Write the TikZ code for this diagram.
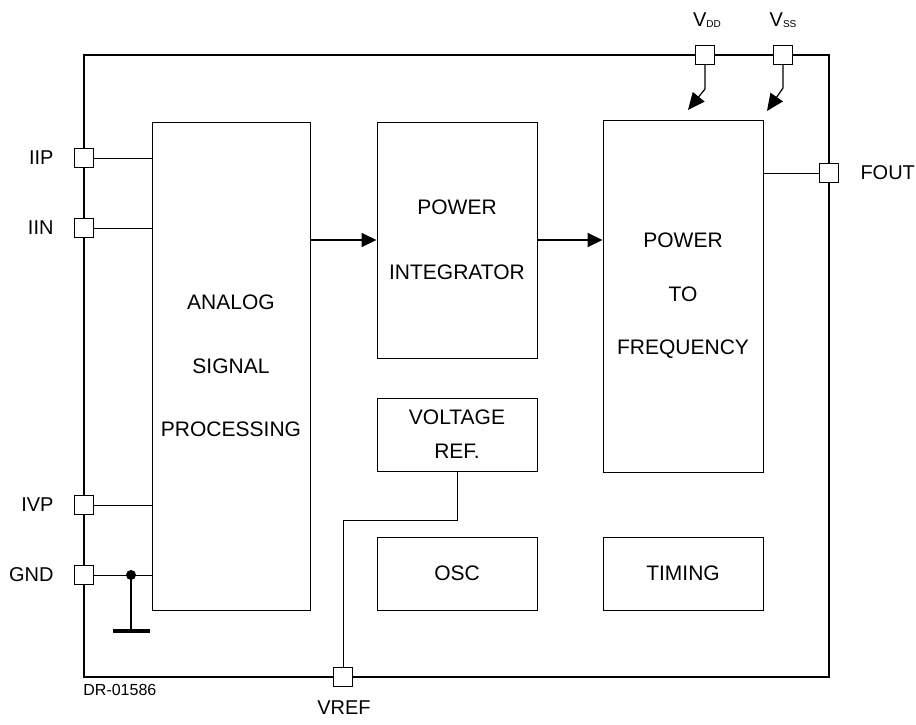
\documentclass[tikz,border=0pt]{standalone}
\usepackage{fontspec}
\setmainfont{Liberation Sans}
\usetikzlibrary{arrows.meta}
\tikzset{
  block/.style = {draw = black, line width = 0.5pt, font = \fontsize{10.5}{#1}\selectfont, align = center, inner sep = 0pt},
  pinbox/.style = {draw = black, fill = white, line width = 0.6pt, minimum size = 9.5pt, inner sep = 0pt},
  pinlabel/.style = {font = \fontsize{10}{12}\selectfont, inner sep = 0pt},
  wire/.style = {line width = 0.5pt},
  flow/.style = {line width = 1pt, -{Triangle[length = 7.5pt, width = 7pt]}},
  supply/.style = {line width = 0.6pt, -{Triangle[length = 8.5pt, width = 7.5pt]}}
}
\begin{document}
\begin{tikzpicture}[x = 0.5pt, y = -0.5pt]
\pgfmathsetlengthmacro\u{0.5pt};
\useasboundingbox (0,0) rectangle (916,724);
\draw [line width = 1pt] (84,55) rectangle (829,677);
\node [block = 31.75pt, minimum width = 158*\u, minimum height = 488*\u] (asp) at (231,366) {ANALOG\\SIGNAL\\PROCESSING};
\node [block = 32.5pt, minimum width = 160*\u, minimum height = 236*\u] (integ) at (457,240) {POWER\\INTEGRATOR};
\node [block = 26.75pt, minimum width = 160*\u, minimum height = 352*\u] (ptf) at (683,296) {POWER\\TO\\FREQUENCY};
\node [block = 17pt, minimum width = 160*\u, minimum height = 73*\u] (vref) at (457,434.5) {VOLTAGE\\REF.};
\node [block = 12pt, minimum width = 160*\u, minimum height = 73*\u] (osc) at (457,573.5) {OSC};
\node [block = 12pt, minimum width = 160*\u, minimum height = 73*\u] (timing) at (683,573.5) {TIMING};
\foreach \name/\x/\y in {IIP/84/158, IIN/84/228, IVP/84/505, GND/84/575, VDD/705/55, VSS/783/55, FOUT/829/173, VREF/343/677}
  \node [pinbox] (p\name) at (\x,\y) {};
\foreach \name in {IIP, IIN, IVP}
  \node [pinlabel, anchor = east] (l\name) at ([xshift = -20*\u]p\name.west) {\name};
\node [pinlabel, anchor = east] (lGND) at ([xshift = -20*\u]pGND.west) {GND};
\node [pinlabel, anchor = west] (lFOUT) at ([xshift = 21*\u]pFOUT.east) {FOUT};
\node [pinlabel] (lVREF) at (344,708) {VREF};
\node [pinlabel] (lVDD) at (707,20) {V\raisebox{-0.5pt}{\fontsize{5}{6}\selectfont DD}};
\node [pinlabel] (lVSS) at (783,20) {V\raisebox{-0.5pt}{\fontsize{5}{6}\selectfont SS}};
\node [font = \fontsize{8}{10}\selectfont, inner sep = 0pt, anchor = west] (drno) at (83,690) {DR-01586};
\foreach \name in {IIP, IIN, IVP, GND}
  \draw [wire] (p\name.east) -- (p\name.east -| asp.west);
\draw [wire] (ptf.east |- pFOUT) -- (pFOUT.west);
\coordinate (gjoin) at (131,575);
\coordinate (gbar) at (131,631);
\fill (gjoin) circle (2.5pt);
\draw [line width = 0.8pt] (gjoin) -- (gbar);
\draw [line width = 1.8pt] ([xshift = -18*\u]gbar) -- ([xshift = 19*\u]gbar);
\coordinate (vbend) at (457,520);
\draw [wire] (vref.south) -- (vbend) -| (pVREF.north);
\draw [flow] (asp.east |- integ.west) -- (integ.west);
\draw [flow] (integ.east) -- (ptf.west |- integ.east);
\coordinate (vddkink) at (705,89);
\coordinate (vddtip) at (688,110);
\coordinate (vsskink) at (783,88);
\coordinate (vsstip) at (767,111);
\draw [supply] (pVDD.south) -- (vddkink) -- (vddtip);
\draw [supply] (pVSS.south) -- (vsskink) -- (vsstip);
\end{tikzpicture}
\end{document}
